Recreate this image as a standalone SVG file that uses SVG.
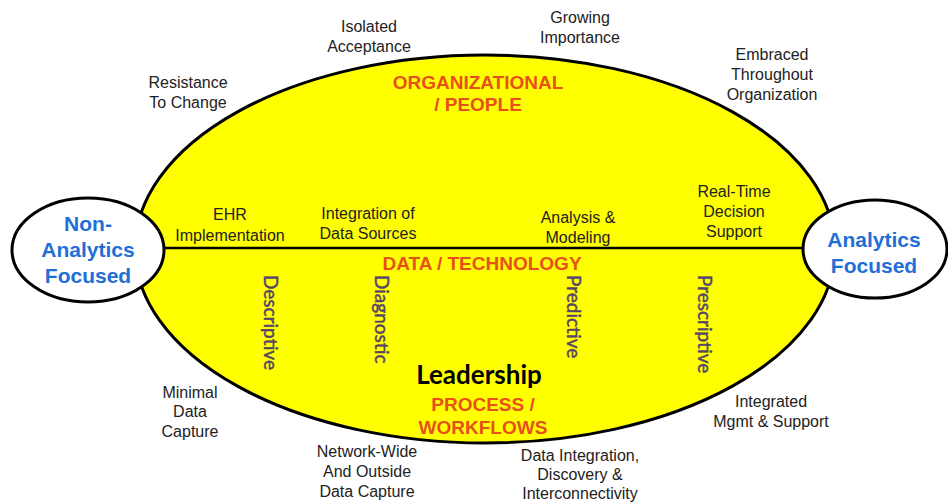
<svg xmlns="http://www.w3.org/2000/svg" width="948" height="504" viewBox="0 0 948 504">
  <style>
    .lbl { font-family: "Liberation Sans", Arial, sans-serif; font-size: 16px; fill: #222; text-anchor: middle; }
    .dim { font-family: "Liberation Sans", Arial, sans-serif; font-size: 19px; font-weight: bold; fill: #e8501a; text-anchor: middle; }
    .end { font-family: "Liberation Sans", Arial, sans-serif; font-size: 21px; font-weight: bold; fill: #1f6fd6; text-anchor: middle; }
    .stage { font-family: Lato, "Open Sans", sans-serif; font-size: 19px; fill: #54446a; stroke: #54446a; stroke-width: 0.45; }
    .lead { font-family: Lato, "Open Sans", sans-serif; font-size: 26px; font-weight: bold; fill: #000; text-anchor: middle; }
    .oval { stroke: #000; stroke-width: 3; }
  </style>
  <rect width="948" height="504" fill="#fff"/>

  <!-- main maturity ellipse -->
  <g id="maturity">
    <ellipse class="oval" cx="485" cy="249" rx="350" ry="194" fill="#ffff00"/>
  </g>

  <!-- connector between the two end states -->
  <g id="connectors">
    <line x1="160" y1="248" x2="805" y2="248" stroke="#000" stroke-width="2.5"/>
  </g>

  <g id="non-analytics">
    <ellipse class="oval" cx="88" cy="250" rx="76" ry="52" fill="#fff"/>
    <text class="end" x="88" y="231">Non-</text>
    <text class="end" x="88" y="257">Analytics</text>
    <text class="end" x="88" y="283">Focused</text>
  </g>

  <g id="analytics">
    <ellipse class="oval" cx="875" cy="249" rx="72" ry="49" fill="#fff"/>
    <text class="end" x="874" y="247">Analytics</text>
    <text class="end" x="874" y="273">Focused</text>
  </g>

  <!-- dimension headings -->
  <g id="org-people">
    <text class="dim" x="478" y="89">ORGANIZATIONAL</text>
    <text class="dim" x="478" y="111">/ PEOPLE</text>
  </g>
  <g id="data-tech">
    <text class="dim" x="482" y="270">DATA / TECHNOLOGY</text>
  </g>
  <g id="process">
    <text class="dim" x="483" y="411">PROCESS /</text>
    <text class="dim" x="483" y="434">WORKFLOWS</text>
  </g>
  <g id="leadership">
    <text class="lead" x="479" y="384">Leadership</text>
  </g>

  <!-- people milestones -->
  <g id="resistance">
    <text class="lbl" x="188" y="88">Resistance</text>
    <text class="lbl" x="188" y="108">To Change</text>
  </g>
  <g id="isolated">
    <text class="lbl" x="369" y="32">Isolated</text>
    <text class="lbl" x="369" y="52">Acceptance</text>
  </g>
  <g id="growing">
    <text class="lbl" x="580" y="23">Growing</text>
    <text class="lbl" x="580" y="43">Importance</text>
  </g>
  <g id="embraced">
    <text class="lbl" x="772" y="60">Embraced</text>
    <text class="lbl" x="772" y="80">Throughout</text>
    <text class="lbl" x="772" y="100">Organization</text>
  </g>

  <!-- technology milestones -->
  <g id="ehr">
    <text class="lbl" x="230" y="220">EHR</text>
    <text class="lbl" x="230" y="241">Implementation</text>
  </g>
  <g id="integration">
    <text class="lbl" x="368" y="219">Integration  of</text>
    <text class="lbl" x="368" y="239">Data Sources</text>
  </g>
  <g id="analysis">
    <text class="lbl" x="578" y="223">Analysis &amp;</text>
    <text class="lbl" x="578" y="243">Modeling</text>
  </g>
  <g id="realtime">
    <text class="lbl" x="734" y="197">Real-Time</text>
    <text class="lbl" x="734" y="217">Decision</text>
    <text class="lbl" x="734" y="237">Support</text>
  </g>

  <!-- analytics stages (vertical) -->
  <g id="descriptive">
    <text class="stage" transform="translate(264,275) rotate(90)">Descriptive</text>
  </g>
  <g id="diagnostic">
    <text class="stage" transform="translate(375,275) rotate(90)">Diagnostic</text>
  </g>
  <g id="predictive">
    <text class="stage" transform="translate(567,275) rotate(90)">Predictive</text>
  </g>
  <g id="prescriptive">
    <text class="stage" transform="translate(698,275) rotate(90)">Prescriptive</text>
  </g>

  <!-- process milestones -->
  <g id="minimal">
    <text class="lbl" x="190" y="398">Minimal</text>
    <text class="lbl" x="190" y="417">Data</text>
    <text class="lbl" x="190" y="437">Capture</text>
  </g>
  <g id="network">
    <text class="lbl" x="367" y="457">Network-Wide</text>
    <text class="lbl" x="367" y="477">And Outside</text>
    <text class="lbl" x="367" y="497">Data Capture</text>
  </g>
  <g id="discovery">
    <text class="lbl" x="580" y="461">Data Integration,</text>
    <text class="lbl" x="580" y="480">Discovery &amp;</text>
    <text class="lbl" x="580" y="499">Interconnectivity</text>
  </g>
  <g id="integrated">
    <text class="lbl" x="771" y="407">Integrated</text>
    <text class="lbl" x="771" y="427">Mgmt &amp; Support</text>
  </g>
</svg>
